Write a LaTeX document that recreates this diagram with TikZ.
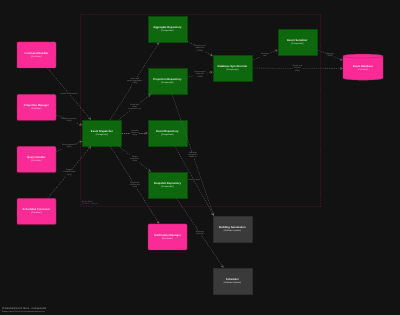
\documentclass[tikz,border=0pt]{standalone}
\usepackage{fontspec}
\setmainfont{Liberation Sans}
\usetikzlibrary{shapes.geometric}
\definecolor{bgdark}{RGB}{18,18,18}
\definecolor{hotpink}{RGB}{250,42,150}
\definecolor{ctgreen}{RGB}{14,104,14}
\definecolor{extgray}{RGB}{58,58,58}
\definecolor{bndred}{RGB}{60,20,30}
\definecolor{linegray}{RGB}{100,100,100}
\newcommand{\boxtxt}[2]{{\bfseries #1}\\{\fontsize{2.1}{2.6}\selectfont #2}}
\begin{document}
\begin{tikzpicture}[>=stealth,x=1pt,y=-1pt,line cap=round,line join=round,
	pbox/.style={draw=hotpink!75!black,fill=hotpink,rounded corners=1.2pt,minimum width=39pt,minimum height=26pt,align=center,text=white,inner sep=1pt,font=\fontsize{2.7}{3.2}\selectfont},
	gbox/.style={draw=ctgreen!70!black,fill=ctgreen,minimum width=39pt,minimum height=26pt,align=center,text=white,inner sep=1pt,font=\fontsize{2.7}{3.2}\selectfont},
	xbox/.style={draw=extgray!80!black,fill=extgray,minimum width=39pt,minimum height=26pt,align=center,text=white,inner sep=1pt,font=\fontsize{2.7}{3.2}\selectfont},
	flow/.style={->,draw=linegray,line width=0.3pt,dash pattern=on 1.1pt off 1.1pt},
	lbl/.style={fill=bgdark,text=linegray!80!white,align=center,inner sep=0.4pt,font=\fontsize{1.9}{2.3}\selectfont}]
	\fill[bgdark] (0,0) rectangle (400,315);
	\useasboundingbox (0,0) rectangle (400,315);
	% system boundary
	\draw[bndred,line width=0.3pt,dash pattern=on 1.2pt off 1.4pt] (80,14) rectangle (320,206);
	\node[anchor=north west,align=left,text=hotpink!75!black,inner sep=0pt,font=\fontsize{1.9}{2.3}\selectfont] (bndlbl) at (82,200.5) {{\bfseries Event Store}\\{[Software System]}};
	% callers on the left
	\foreach \y/\nm/\title in {55/cmd/Command Handler,107.5/projmgr/Projection Manager,159.5/query/Query Handler,211.5/sched/Scheduled Processor}
	\node[pbox] (\nm) at (36.5,\y) {\boxtxt{\title}{[Container]}};
	\node[gbox] (disp) at (102,133) {\boxtxt{Event Dispatcher}{[Component]}};
	% repositories
	\foreach \y/\nm/\title in {29/aggrepo/Aggregate Repository,81/projrepo/Projection Repository,133/evrepo/Event Repository,185/snaprepo/Snapshot Repository}
	\node[gbox] (\nm) at (167.5,\y) {\boxtxt{\title}{[Component]}};
	\node[gbox] (dbsync) at (232.5,68) {\boxtxt{Database Synchronizer}{[Component]}};
	\node[gbox] (serial) at (297.5,42) {\boxtxt{Event Serializer}{[Component]}};
	\node[cylinder,shape border rotate=90,aspect=0.18,draw=hotpink!75!black,fill=hotpink,minimum width=40pt,minimum height=26pt,align=center,text=white,inner sep=1pt,font=\fontsize{2.7}{3.2}\selectfont] (evdb) at (363,68.5) {\boxtxt{Event Database}{[Container]}};
	\node[pbox] (notify) at (167.5,237) {\boxtxt{Notification Manager}{[Container]}};
	% external systems
	\node[xbox] (automation) at (232.5,229) {\boxtxt{Building Automation}{[Software System]}};
	\node[xbox] (scheduler) at (232.5,281) {\boxtxt{Scheduler}{[Software System]}};
	% relationships
	\foreach \a/\b/\txt in {cmd/disp/{Sends commands to},projmgr/disp/{Reads projections\\using},query/disp/{Sends queries to\\{[sync]}},sched/disp/{Triggers\\scheduled jobs\\using},
		disp/aggrepo/{Loads and\\saves aggregates\\using},disp/projrepo/{Reads and\\writes\\projections via},disp/evrepo/{Appends\\events to\\using},disp/snaprepo/{Reads\\snapshots\\using},disp/notify/{Dispatches\\notifications\\using},
		aggrepo/dbsync/{Writes to and\\reads from\\{[JDBC]}},projrepo/dbsync/{Synchronizes\\state with\\{[JDBC]}},dbsync/serial/{Serializes\\with},serial/evdb/{Writes to\\{[JDBC]}},dbsync/evdb/{Reads and\\writes to\\{[SQL]}},snaprepo/scheduler/{Registers\\jobs with}}
	\draw[flow] (\a) -- (\b) node[midway,lbl] {\txt};
	\draw[flow] (projrepo) -- ([xshift=1pt]automation.north west) node[midway,lbl] {Publishes\\integration\\events to};
	\draw[flow] (evrepo) -- ([xshift=1pt]automation.north west) node[midway,lbl] {Sends events\\to};
	% footer
	\node[anchor=south west,align=left,inner sep=0pt,text=white!70!black,font=\fontsize{2.6}{3}\selectfont] (footer) at (2,313) {[Container] Event Store - Components\\{\fontsize{1.6}{2}\selectfont Monday, 6 March 2023 at 09:14 Coordinated Universal Time}};
\end{tikzpicture}
\end{document}
